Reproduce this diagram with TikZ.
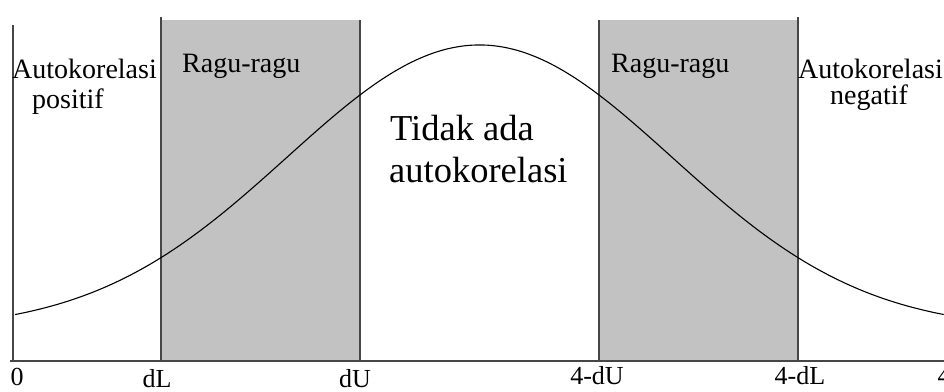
\documentclass[tikz,border=0pt]{standalone}
\usepackage{fontspec}
\setmainfont{Liberation Serif}
\definecolor{shade}{RGB}{194,194,194}
\definecolor{edge}{RGB}{70,70,70}
\tikzset{
  lbl/.style={inner sep=0pt, anchor=base west, font=\fontsize{28}{30}\selectfont},
  big/.style={inner sep=0pt, anchor=base west, font=\fontsize{36.5}{40}\selectfont},
  tick/.style={inner sep=0pt, anchor=base, font=\fontsize{26}{28}\selectfont},
  bound/.style={draw=edge, line width=1.6pt},
  zone/.style={fill=shade, draw=none},
  curve/.style={draw=black, line width=1.1pt}
}
\begin{document}
\begin{tikzpicture}[x=1pt,y=-1pt]
\useasboundingbox (0,0) rectangle (944,391);
\fill[white] (0,0) rectangle (944,391);
% shaded zones
\path[zone] (161,20) rectangle (360,361);
\path[zone] (599,20) rectangle (798,361);
% boundaries
\draw[bound] (13,25) -- (13,361);
\draw[bound] (161,17) -- (161,361);
\draw[bound] (360,20) -- (360,361);
\draw[bound] (599,20) -- (599,361);
\draw[bound] (798,17) -- (798,361);
\draw[bound] (10,361) -- (944,361);
% curve
\draw[curve] plot[domain=-4.645:4.645, samples=241, smooth, variable=\t]
  ({479.5+100*\t}, {330-285*exp(-\t*\t/7.4)});
% labels
\node[lbl] (apos) at (12,78) {Autokorelasi};
\node[lbl] (pos) at (32,108) {positif};
\node[lbl] (rg1) at (182,72) {Ragu-ragu};
\node[lbl] (rg2) at (611,72) {Ragu-ragu};
\node[lbl] (aneg) at (798,78) {Autokorelasi};
\node[lbl] (neg) at (830,104) {negatif};
\node[big] (tid) at (390,140) {Tidak ada};
\node[big] (tauto) at (389,182) {autokorelasi};
% ticks
\node[tick] (t0) at (17,385) {0};
\node[tick] (tdl) at (157,387) {dL};
\node[tick] (tdu) at (355,387) {dU};
\node[tick] (t4du) at (597,384) {4-dU};
\node[tick] (t4dl) at (800,384) {4-dL};
\node[tick] (t4) at (944,384) {4};
\end{tikzpicture}
\end{document}
